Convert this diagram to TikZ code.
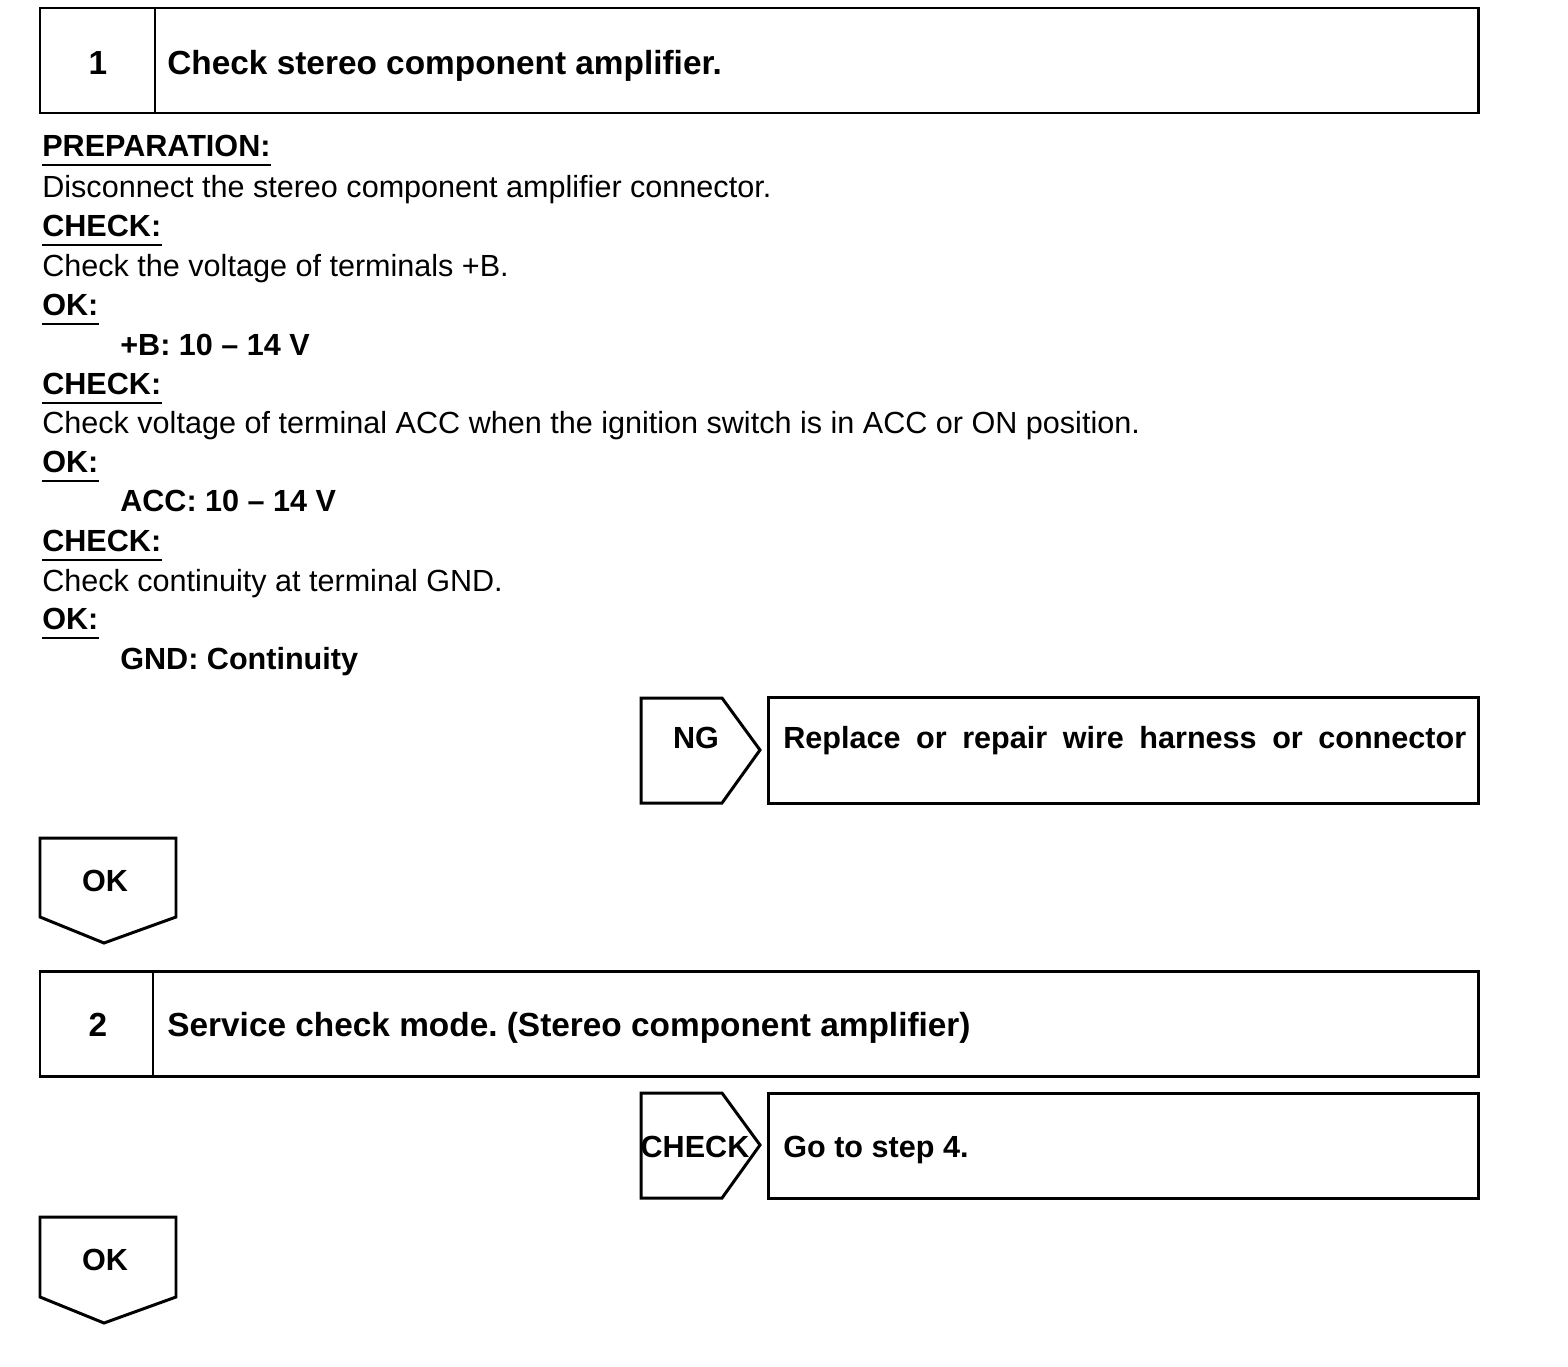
\documentclass[tikz,border=0pt]{standalone}
\usepackage{fontspec}
\setmainfont{Liberation Sans}
\frenchspacing
\usetikzlibrary{positioning}
\tikzset{
	bodytext/.style={
			anchor=base west,
			inner sep=0pt,
			font=\fontsize{17.4}{20}\selectfont
		},
	headtext/.style={
			bodytext,
			font=\fontsize{17.4}{20}\selectfont\bfseries
		},
	titletext/.style={
			anchor=base west,
			inner sep=0pt,
			font=\fontsize{19}{22}\selectfont\bfseries
		},
	tagtext/.style={
			anchor=base,
			inner sep=0pt,
			font=\fontsize{17.4}{20}\selectfont\bfseries
		},
	frame/.style={
			draw=black,
			line width=1.7pt,
			line join=miter
		},
	uline/.style={
			line width=1pt
		}
}

\begin{document}
\begin{tikzpicture}[x=0.02cm, y=-0.02cm]
\useasboundingbox (0,0) rectangle (1568,1366);

% step 1 header
\draw[frame] (40,8) rectangle (1478,113);
\draw[frame] (155,8) -- (155,113);
\node[titletext, anchor=base] (num1) at (98,74) {1};
\node[titletext] (title1) at (167,74) {Check stereo component amplifier.};

% procedure text
\node[headtext] (prep) at (42,156) {PREPARATION:};
\node[bodytext] (t1) at (42,197) {Disconnect the stereo component amplifier connector.};
\node[headtext] (chk1) at (42,236) {CHECK:};
\node[bodytext] (t2) at (42,276) {Check the voltage of terminals +B.};
\node[headtext] (ok1) at (42,315) {OK:};
\node[headtext] (v1) at (120,355) {+B: 10 -- 14 V};
\node[headtext] (chk2) at (42,394) {CHECK:};
\node[bodytext] (t3) at (42,433) {Check voltage of terminal ACC when the ignition switch is in ACC or ON position.};
\node[headtext] (ok2) at (42,472) {OK:};
\node[headtext] (v2) at (120,511) {ACC: 10 -- 14 V};
\node[headtext] (chk3) at (42,551) {CHECK:};
\node[bodytext] (t4) at (42,591) {Check continuity at terminal GND.};
\node[headtext] (ok3) at (42,629) {OK:};
\node[headtext] (v3) at (120,669) {GND: Continuity};

\foreach \n in {prep,chk1,ok1,chk2,ok2,chk3,ok3}
	\draw[uline] ([yshift=-1.8mm]\n.base west) -- ([yshift=-1.8mm]\n.base east);

% NG branch
\draw[frame] (641,698) -- (722,698) -- (760,750) -- (722,803) -- (641,803) -- cycle;
\node[tagtext] (ng) at (696,748) {NG};
\draw[frame] (768,697) rectangle (1478,803);
\node[headtext] (repair) at (783,748) {\makebox[13.66cm][s]{Replace or repair wire harness or connector}};

% OK arrow 1
\draw[frame] (40,838) -- (176,838) -- (176,917) -- (104,943) -- (40,917) -- cycle;
\node[tagtext] (okA) at (105,891) {OK};

% step 2 header
\draw[frame] (40,971) rectangle (1478,1076);
\draw[frame] (153,971) -- (153,1076);
\node[titletext, anchor=base] (num2) at (98,1036) {2};
\node[titletext] (title2) at (167,1036) {Service check mode. (Stereo component amplifier)};

% CHECK branch
\draw[frame] (641,1093) -- (722,1093) -- (760,1145) -- (722,1198) -- (641,1198) -- cycle;
\node[tagtext] (chkB) at (695,1157) {CHECK};
\draw[frame] (768,1093) rectangle (1478,1198);
\node[headtext] (goto) at (783,1157) {Go to step 4.};

% OK arrow 2
\draw[frame] (40,1217) -- (176,1217) -- (176,1297) -- (104,1323) -- (40,1297) -- cycle;
\node[tagtext] (okB) at (105,1270) {OK};
\end{tikzpicture}
\end{document}
